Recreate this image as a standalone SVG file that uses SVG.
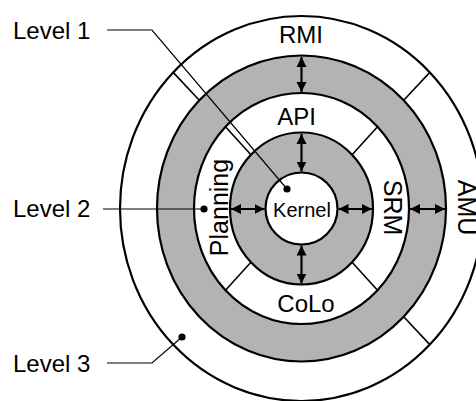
<svg xmlns="http://www.w3.org/2000/svg" width="476" height="401" viewBox="0 0 476 401">
<defs>
<style>
.ring{stroke:#000;stroke-width:2.2}
.w{fill:#fff}
.g{fill:#b3b3b3}
.div{stroke:#000;stroke-width:1.6;fill:none}
.arr{stroke:#000;stroke-width:2.2;fill:none;marker-start:url(#ah);marker-end:url(#ah)}
.lead{stroke:#000;stroke-width:1.2;fill:none}
.dot{fill:#000}
text{font-family:"Liberation Sans",Arial,sans-serif;font-size:24px;fill:#000}
.c{text-anchor:middle}
.r{font-size:25px}
</style>
<marker id="ah" viewBox="0 0 10 10" refX="10" refY="5" markerWidth="10" markerHeight="11" markerUnits="userSpaceOnUse" orient="auto-start-reverse">
<path d="M0,0 L10,5 L0,10 z" fill="#000"/>
</marker>
</defs>
<rect width="476" height="401" fill="#fff"/>
<g id="level3">
<ellipse class="ring w" cx="301.5" cy="208.5" rx="181.5" ry="192.5"/>
</g>
<g id="ring-gray-outer">
<ellipse class="ring g" cx="301.5" cy="208.5" rx="144.5" ry="153"/>
</g>
<g id="level2">
<ellipse class="ring w" cx="301.5" cy="208.5" rx="107.5" ry="115.5"/>
</g>
<g id="ring-gray-inner">
<ellipse class="ring g" cx="301.5" cy="208.5" rx="71.5" ry="76"/>
</g>
<g id="kernel">
<circle class="ring w" cx="301.5" cy="208.5" r="36"/>
<text class="c" x="302" y="217" style="font-size:20px">Kernel</text>
</g>
<g id="dividers">
<line class="div" x1="199.3" y1="100.3" x2="173.2" y2="72.4"/>
<line class="div" x1="403.7" y1="100.3" x2="429.8" y2="72.4"/>
<line class="div" x1="403.7" y1="316.7" x2="429.8" y2="344.6"/>
<line class="div" x1="250.9" y1="154.8" x2="225.5" y2="126.8"/>
<line class="div" x1="352.1" y1="154.8" x2="377.5" y2="126.8"/>
<line class="div" x1="352.1" y1="262.2" x2="377.5" y2="290.2"/>
<line class="div" x1="250.9" y1="262.2" x2="225.5" y2="290.2"/>
</g>
<g id="rmi"><text class="c" x="301" y="43">RMI</text></g>
<g id="amu"><text class="c r" transform="translate(458,207.5) rotate(90)">AMU</text></g>
<g id="api"><text class="c" x="296.5" y="125">API</text></g>
<g id="srm"><text class="c r" transform="translate(384,207.5) rotate(90)">SRM</text></g>
<g id="colo"><text class="c" x="306" y="312">CoLo</text></g>
<g id="planning"><text class="c r" transform="translate(227.5,207.5) rotate(-90)">Planning</text></g>
<g id="connectors">
<line class="arr" x1="301.5" y1="57" x2="301.5" y2="92"/>
<line class="arr" x1="301.5" y1="134" x2="301.5" y2="171.5"/>
<line class="arr" x1="301.5" y1="245.5" x2="301.5" y2="283.5"/>
<line class="arr" x1="231" y1="209" x2="264.5" y2="209"/>
<line class="arr" x1="338.5" y1="209" x2="372" y2="209"/>
<line class="arr" x1="410" y1="209" x2="445" y2="209"/>
<polyline class="lead" points="107,30 152,30 287,189"/>
<circle class="dot" cx="287" cy="189" r="3.6"/>
<polyline class="lead" points="103,209 204,209"/>
<circle class="dot" cx="204" cy="209" r="3.6"/>
<polyline class="lead" points="107,363 152,363 182,337"/>
<circle class="dot" cx="182" cy="337" r="3.6"/>
</g>
<g id="labels">
<text x="13" y="39">Level 1</text>
<text x="13" y="217">Level 2</text>
<text x="13" y="372">Level 3</text>
</g>
</svg>
